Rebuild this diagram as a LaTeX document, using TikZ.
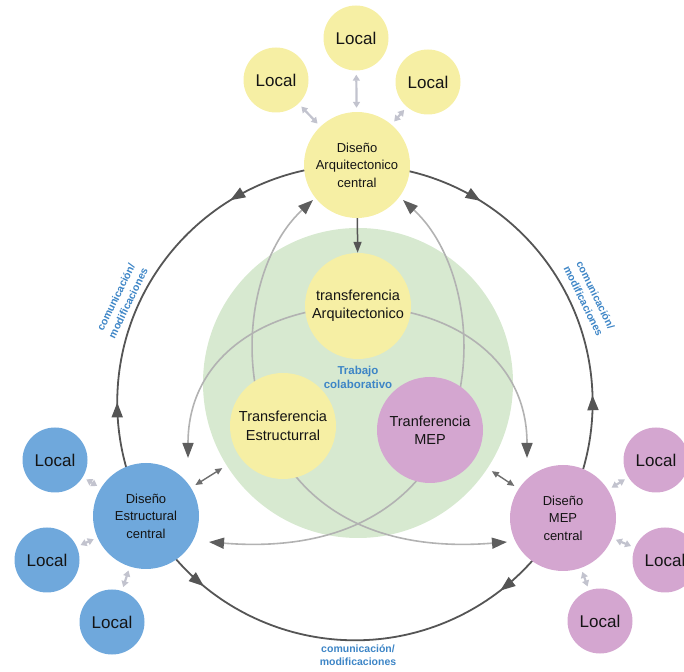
\documentclass[tikz,border=0pt]{standalone}
\usepackage{fontspec}
\setmainfont{Liberation Sans}
\usetikzlibrary{arrows.meta,decorations.markings,calc}

\definecolor{arqyellow}{HTML}{F6EFA4}
\definecolor{estblue}{HTML}{6FA8DC}
\definecolor{meppink}{HTML}{D4A6D0}
\definecolor{zonegreen}{HTML}{D7E9D0}
\definecolor{labelblue}{HTML}{3D85C6}
\definecolor{ringgray}{HTML}{555555}
\definecolor{flowgray}{HTML}{B2B2B2}
\definecolor{headgray}{HTML}{5E5E5E}
\definecolor{localgray}{HTML}{C2C3CE}
\definecolor{inktext}{HTML}{141414}

\pgfdeclarelayer{zone}
\pgfdeclarelayer{links}
\pgfsetlayers{zone,links,main}

\tikzset{
  ringtip/.tip={Triangle[length=15pt,width=11pt,color=ringgray]},
  flowtip/.tip={Triangle[length=15pt,width=11pt,color=headgray]},
  feedtip/.tip={Triangle[length=11pt,width=8pt,color=ringgray]},
  synctip/.tip={Triangle[length=7pt,width=6pt]},
  localtip/.tip={Triangle[length=6pt,width=7pt]},
}

\begin{document}
\begin{tikzpicture}[x=1pt,y=1pt,
  bubble/.style={circle, inner sep=0pt, align=center, text=inktext},
  hub/.style={bubble, minimum size=106pt, font=\fontsize{13}{17.5}\selectfont},
  transfer/.style={bubble, minimum size=106pt, font=\fontsize{14.5}{18.5}\selectfont},
  localnode/.style={bubble, minimum size=65pt, font=\fontsize{17}{20}\selectfont},
  ringarc/.style={draw=ringgray, line width=1.8pt, postaction={decorate}},
  flow/.style={draw=flowgray, line width=1.6pt, flowtip-flowtip},
  feed/.style={draw=ringgray, line width=1.5pt, -feedtip},
  sync/.style={draw=ringgray!85, line width=1.4pt, synctip-synctip, shorten <=5pt, shorten >=5pt},
  locallink/.style={draw=localgray, line width=2.2pt, localtip-localtip, shorten <=4pt, shorten >=4pt},
  lbl/.style={font=\bfseries\fontsize{10.5}{13.5}\selectfont, text=labelblue, align=center},
]
\useasboundingbox (0,0) rectangle (684,671);

% collaborative zone
\begin{pgfonlayer}{zone}
  \node[circle, minimum size=310pt, inner sep=0pt, fill=zonegreen] (zone) at (358,288) {};
\end{pgfonlayer}

% central design hubs
\node[hub, fill=arqyellow] (arqC) at (357,506) {Diseño\\Arquitectonico\\central};
\node[hub, fill=estblue]   (estC) at (146,155) {Diseño\\Estructural\\central};
\node[hub, fill=meppink]   (mepC) at (563,153) {Diseño\\MEP\\central};

% transfer models inside the zone
\node[transfer, fill=arqyellow] (trA) at (358,365) {transferencia\\Arquitectonico};
\node[transfer, fill=arqyellow] (trE) at (283,245) {Transferencia\\Estructurral};
\node[transfer, fill=meppink]   (trM) at (430,241) {Tranferencia\\MEP};

\node[lbl, font=\bfseries\fontsize{11.5}{14}\selectfont] (collab) at (358,294) {Trabajo\\colaborativo};

% local copies
\node[localnode, fill=arqyellow] (la1) at (356,633) {Local};
\node[localnode, fill=arqyellow] (la2) at (276,591) {Local};
\node[localnode, fill=arqyellow] (la3) at (428,589) {Local};
\node[localnode, fill=estblue] (le1) at (55,211) {Local};
\node[localnode, fill=estblue] (le2) at (47,111) {Local};
\node[localnode, fill=estblue] (le3) at (112,49) {Local};
\node[localnode, fill=meppink] (lm1) at (656,211) {Local};
\node[localnode, fill=meppink] (lm2) at (665,111) {Local};
\node[localnode, fill=meppink] (lm3) at (600,50) {Local};

% ring centre and free ends of the transfer flows
\coordinate (ring) at (355,268);
\coordinate (f1a) at (188,213);
\coordinate (f1b) at (527,213);
\coordinate (f2a) at (507,129);
\coordinate (f2b) at (313,471);
\coordinate (f3a) at (209,129);
\coordinate (f3b) at (403,471);

\begin{pgfonlayer}{links}
  % communication ring
  \draw[ringarc, decoration={markings,
      mark=at position 0.27 with {\arrow{ringtip}},
      mark=at position 0.76 with {\arrowreversed{ringtip}}}]
    (arqC.center) arc[start angle=89.5, end angle=208.5, radius=237.7];
  \draw[ringarc, decoration={markings,
      mark=at position 0.265 with {\arrow{ringtip}},
      mark=at position 0.74 with {\arrowreversed{ringtip}}}]
    (arqC.center) arc[start angle=89.5, end angle=-29, radius=237.7];
  \draw[ringarc, decoration={markings,
      mark=at position 0.18 with {\arrow{ringtip}},
      mark=at position 0.81 with {\arrowreversed{ringtip}}}]
    (estC.center) arc[start angle=208.5, end angle=331, radius=237.7];

  % transfer flows
  \draw[flow] (f1a) .. controls (188,410) and (527,410) .. (f1b);
  \draw[flow] (f2a) .. controls (220,106) and (215,381) .. (f2b);
  \draw[flow] (f3a) .. controls (496,106) and (501,381) .. (f3b);

  % hub to its transfer model
  \draw[feed] (arqC) -- (trA);

  % hubs exchanging with the zone
  \draw[sync] (estC) -- (zone);
  \draw[sync] (mepC) -- (zone);

  % local copies
  \draw[locallink] (la1) -- (arqC);
  \draw[locallink] (la2) -- (arqC);
  \draw[locallink] (la3) -- (arqC);
  \draw[locallink] (le1) -- (estC);
  \draw[locallink] (le2) -- (estC);
  \draw[locallink] (le3) -- (estC);
  \draw[locallink] (lm1) -- (mepC);
  \draw[locallink] (lm2) -- (mepC);
  \draw[locallink] (lm3) -- (mepC);
\end{pgfonlayer}

% ring labels
\node[lbl, rotate=64]  (cmL) at ($(ring)+(156.2:254.7)$) {comunicación/\\modificaciones};
\node[lbl, rotate=-64] (cmR) at ($(ring)+(24.1:257)$) {comunicación/\\modificaciones};
\node[lbl] (cmB) at (358,16) {comunicación/\\modificaciones};
\end{tikzpicture}
\end{document}
